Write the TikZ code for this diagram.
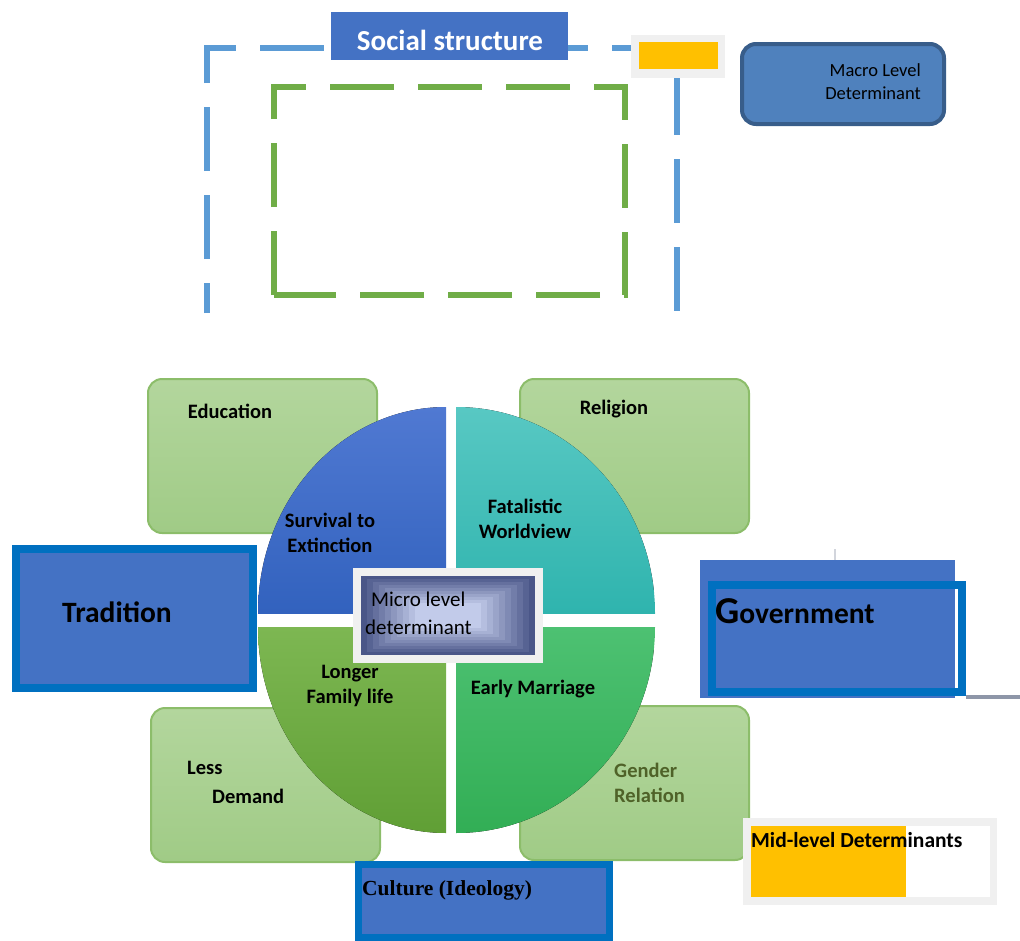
\documentclass[tikz,border=0pt]{standalone}
\usepackage{fontspec}
\setmainfont{Carlito}
\newfontfamily\timesfont{Liberation Serif}
\definecolor{dashblue}{HTML}{5B9BD5}
\definecolor{dashgreen}{HTML}{70AD47}
\definecolor{midblue}{HTML}{4472C4}
\definecolor{frameblue}{HTML}{0070C0}
\definecolor{gold}{HTML}{FFC000}
\definecolor{paleframe}{HTML}{F0F0F0}
\definecolor{macrofill}{HTML}{4F81BD}
\definecolor{macroedge}{HTML}{385D8A}
\definecolor{leafA}{HTML}{B3D69D}
\definecolor{leafB}{HTML}{A0CB86}
\definecolor{leafedge}{HTML}{8CBD6A}
\definecolor{tlA}{HTML}{5079D2}
\definecolor{tlB}{HTML}{3262BE}
\definecolor{trA}{HTML}{58C8C3}
\definecolor{trB}{HTML}{2FB4AE}
\definecolor{blA}{HTML}{7DB752}
\definecolor{blB}{HTML}{609F35}
\definecolor{brA}{HTML}{4DC172}
\definecolor{brB}{HTML}{32AE55}
\definecolor{microIn}{HTML}{C3CCEB}
\definecolor{microOut}{HTML}{4A5688}
\definecolor{olive}{HTML}{4F6228}
\definecolor{greyline}{HTML}{8E96A8}

\begin{document}
\begin{tikzpicture}[x=1pt, y=-1pt,
    lbl/.style={font=\bfseries\fontsize{20.5}{25}\selectfont, align=center, inner sep=0pt},
    leafbox/.style={draw=leafedge, line width=2pt, top color=leafA, bottom color=leafB, rounded corners=14pt},
    bluebox/.style={fill=midblue, draw=frameblue, line width=8pt},
    paledash/.style={line width=6pt, dash pattern=on 64pt off 24pt}]
    \useasboundingbox (0,0) rectangle (1020,940);

    % social structure frame (open at the bottom)
    \draw[paledash, dashblue, dash phase=34pt] (207,313) -- (207,48) -- (677,48) -- (677,313);
    \draw[paledash, dashgreen] (274,295) -- (274,87) -- (625,87) -- (625,295) -- cycle;
    \fill[midblue] (331,12) rectangle (568,60);
    \node[font=\bfseries\fontsize{29}{32}\selectfont, text=white, inner sep=0pt] (social) at (450,40) {Social structure};
    \fill[paleframe] (631,35) rectangle (725,78);
    \fill[gold] (639,42) rectangle (718,69);
    \draw[fill=macrofill, draw=macroedge, line width=4pt, rounded corners=14pt] (742,44) rectangle (944,124);
    \node[font=\fontsize{18.5}{23}\selectfont, align=right, anchor=east, inner sep=0pt] (macro) at (921,82) {Macro Level\\Determinant};

    % the four mid level boxes
    \foreach \x/\y in {148/379, 520/379, 151/708, 520/706}
    {
        \draw[leafbox] (\x,\y) rectangle ++(229,154);
    }

    % pie of micro level parts
    \foreach \cx/\cy/\sx/\sy/\rx/\q in {446/613/-1/-1/188/tl, 456/613/1/-1/199/tr, 446/627/-1/1/188/bl, 456/627/1/1/199/br}
    {
        \begin{scope}
            \clip (\cx,\cy) ellipse [x radius=\rx, y radius=206];
            \fill[top color=\q A, bottom color=\q B] (\cx,\cy) rectangle ++(\sx*\rx,\sy*206);
        \end{scope}
    }

    \node[lbl] (edu) at (230,411) {Education};
    \node[lbl] (rel) at (614,409) {Religion};
    \node[lbl, anchor=west] (less) at (187,768) {Less};
    \node[lbl, anchor=west] (demand) at (212,796) {Demand};
    \node[lbl, align=left, anchor=west, text=olive] (gender) at (614,783) {Gender\\Relation};
    \node[lbl] (survival) at (330,533) {Survival to\\Extinction};
    \node[lbl] (fatal) at (525,519) {Fatalistic\\Worldview};
    \node[lbl] (longer) at (350,686) {Longer\\Family life};
    \node[lbl] (early) at (533,689) {Early Marriage};

    % micro level box in the middle, stepped shade
    \fill[paleframe] (353,568) rectangle (543,663);
    \foreach \i in {0,...,9}
    {
        \pgfmathtruncatemacro\pc{\i*11}
        \fill[microIn!\pc!microOut] (361+\i*6,576+\i*3) rectangle (535-\i*6,655-\i*3);
    }
    \node[lbl, font=\fontsize{21}{25}\selectfont, anchor=west] (micro) at (371,599) {Micro level};
    \node[lbl, font=\fontsize{21}{25}\selectfont, anchor=west] (micro2) at (365,627) {determinant};

    % macro boxes
    \draw[bluebox] (16,549) rectangle (253,688);
    \node[font=\bfseries\fontsize{29.5}{32}\selectfont, anchor=base, inner sep=0pt] (trad) at (117,622) {Tradition};
    \draw[greyline!40, line width=1.5pt] (835,549) -- (835,560);
    \fill[midblue] (700,560) rectangle (955,698);
    \draw[frameblue, line width=8pt] (712,585) rectangle (962,692);
    \draw[greyline, line width=4pt] (966,697) -- (1020,697);
    \node[font=\bfseries\fontsize{29.5}{32}\selectfont, anchor=base west, inner sep=0pt] (gov) at (715,623)
        {{\fontsize{38}{40}\selectfont G}overnment};
    \draw[bluebox, line width=7pt] (358,864) rectangle (609,937);
    \node[font=\timesfont\bfseries\fontsize{21.5}{24}\selectfont, anchor=west, inner sep=0pt] (culture) at (362,890) {Culture (Ideology)};

    % key for the mid level
    \fill[paleframe] (743,818) rectangle (997,905);
    \fill[white] (751,826) rectangle (990,897);
    \fill[gold] (751,826) rectangle (906,897);
    \node[lbl, font=\bfseries\fontsize{21.5}{25}\selectfont, anchor=west] (mid) at (751,840) {Mid-level Determinants};
\end{tikzpicture}
\end{document}
